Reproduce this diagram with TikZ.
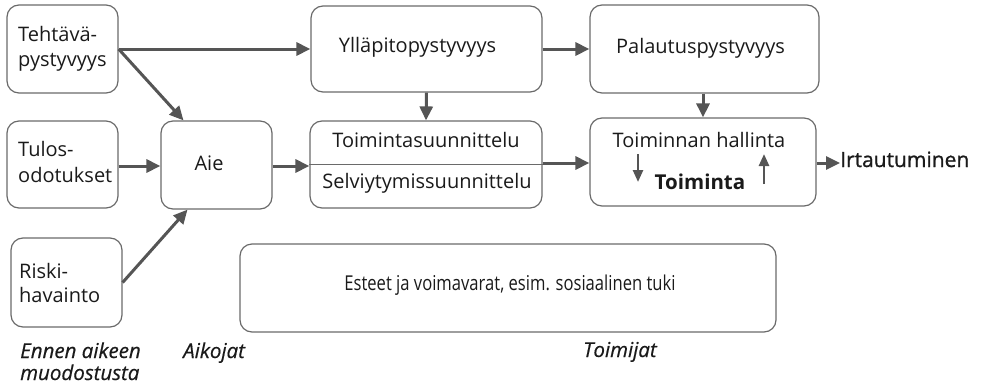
\documentclass[tikz,border=0pt]{standalone}
\usepackage{fontspec}
\setmainfont{Open Sans}
\usetikzlibrary{arrows.meta,calc}
\definecolor{arrowgray}{HTML}{555555}
\definecolor{boxgray}{HTML}{6A6A6A}
\definecolor{txt}{HTML}{1A1A1A}
\begin{document}
\begin{tikzpicture}[x=1pt,y=-1pt,
  box/.style={draw=boxgray, line width=1.2pt, rounded corners=12pt, inner sep=0pt},
  lbl/.style={inner sep=0pt, text=txt, font=\fontsize{20}{25}\selectfont, anchor=base},
  lbll/.style={lbl, anchor=base west},
  side/.style={inner sep=0pt, text=txt,
    font=\fontsize{20.5}{22}\selectfont\itshape\addfontfeature{FakeBold=0.5}, anchor=base west},
  flow/.style={draw=arrowgray, line width=3pt, -{Triangle[length=14pt,width=13pt]}},
  tick/.style={draw=arrowgray, line width=2.5pt, -{Triangle[length=12pt,width=10pt]}}
]
\useasboundingbox (0,0) rectangle (987,388);

% left column
\node[box, minimum width=111pt, minimum height=88pt] (teh) at (62.5,49) {};
\node[lbll] (tehA) at (18,41) {Tehtävä-};
\node[lbll] (tehB) at (18,66) {pystyvyys};
\node[box, minimum width=111pt, minimum height=87pt] (tul) at (62.5,164.5) {};
\node[lbll] (tulA) at (18,156) {Tulos-};
\node[lbll] (tulB) at (18,182) {odotukset};
\node[box, minimum width=111pt, minimum height=89pt] (ris) at (66.5,282.5) {};
\node[lbll] (risA) at (19,278) {Riski-};
\node[lbll] (risB) at (19,302) {havainto};

% intention
\node[box, minimum width=111pt, minimum height=88pt] (aie) at (216.5,165) {};
\node[lbl] (aieT) at (209,170) {Aie};

% upper row
\node[box, minimum width=231pt, minimum height=86pt] (yll) at (426.5,49) {};
\node[lbl] (yllT) at (417.5,52) {Ylläpitopystyvyys};
\node[box, minimum width=229pt, minimum height=88pt] (pal) at (704.5,49) {};
\node[lbl] (palT) at (700.5,53) {Palautuspystyvyys};

% planning box, split in two
\node[box, minimum width=232pt, minimum height=87pt] (suu) at (426,164.5) {};
\draw[draw=boxgray, line width=1.2pt] (suu.west) -- (suu.east);
\node[lbl] (suuA) at (426,147) {Toimintasuunnittelu};
\node[lbl] (suuB) at (427,188) {Selviytymissuunnittelu};

% action box
\node[box, minimum width=226pt, minimum height=88pt] (toi) at (703,162) {};
\node[lbl] (toiA) at (699,147) {Toiminnan hallinta};
\node[lbl, font=\fontsize{20.5}{24}\selectfont\bfseries] (toiB) at (700,189) {Toiminta};
\coordinate (dnA) at (638,154);
\coordinate (dnB) at (638,182);
\coordinate (upA) at (764,184);
\coordinate (upB) at (764,154);
\draw[tick] (dnA) -- (dnB);
\draw[tick] (upA) -- (upB);

\node[lbll, font=\fontsize{21}{24}\selectfont\addfontfeature{FakeBold=1}] (irt) at (840,167) {Irtautuminen};

% resources
\node[box, minimum width=536pt, minimum height=88pt] (est) at (508,288) {};
\node[lbl, font=\fontsize{20.5}{24}\selectfont\addfontfeature{FakeStretch=0.81}] (estT) at (510,290)
  {Esteet ja voimavarat, esim. sosiaalinen tuki};

% stage labels
\node[side] (ennenA) at (20,358) {Ennen aikeen};
\node[side] (ennenB) at (20,380) {muodostusta};
\node[side] (aikojat) at (183,358) {Aikojat};
\node[side] (toimijat) at (583,357) {Toimijat};

% connectors
\draw[flow] (teh.east) -- (yll.west |- teh.east);
\draw[flow] (teh.east) -- ($(aie.north)+(-33,0)$);
\draw[flow] (tul.east |- 0,166) -- (aie.west |- 0,166);
\draw[flow] (ris.east) -- ($(aie.south)+(-29,0)$);
\draw[flow] (aie.east |- 0,166) -- (suu.west |- 0,166);
\draw[flow] (yll.south) -- (suu.north);
\draw[flow] (yll.east |- teh.east) -- (pal.west |- teh.east);
\draw[flow] (pal.south -| toi.north) -- (toi.north);
\draw[flow] (suu.east |- 0,163) -- (toi.west |- 0,163);
\draw[flow] (toi.east |- 0,163) -- (irt.west |- 0,163);
\end{tikzpicture}
\end{document}
